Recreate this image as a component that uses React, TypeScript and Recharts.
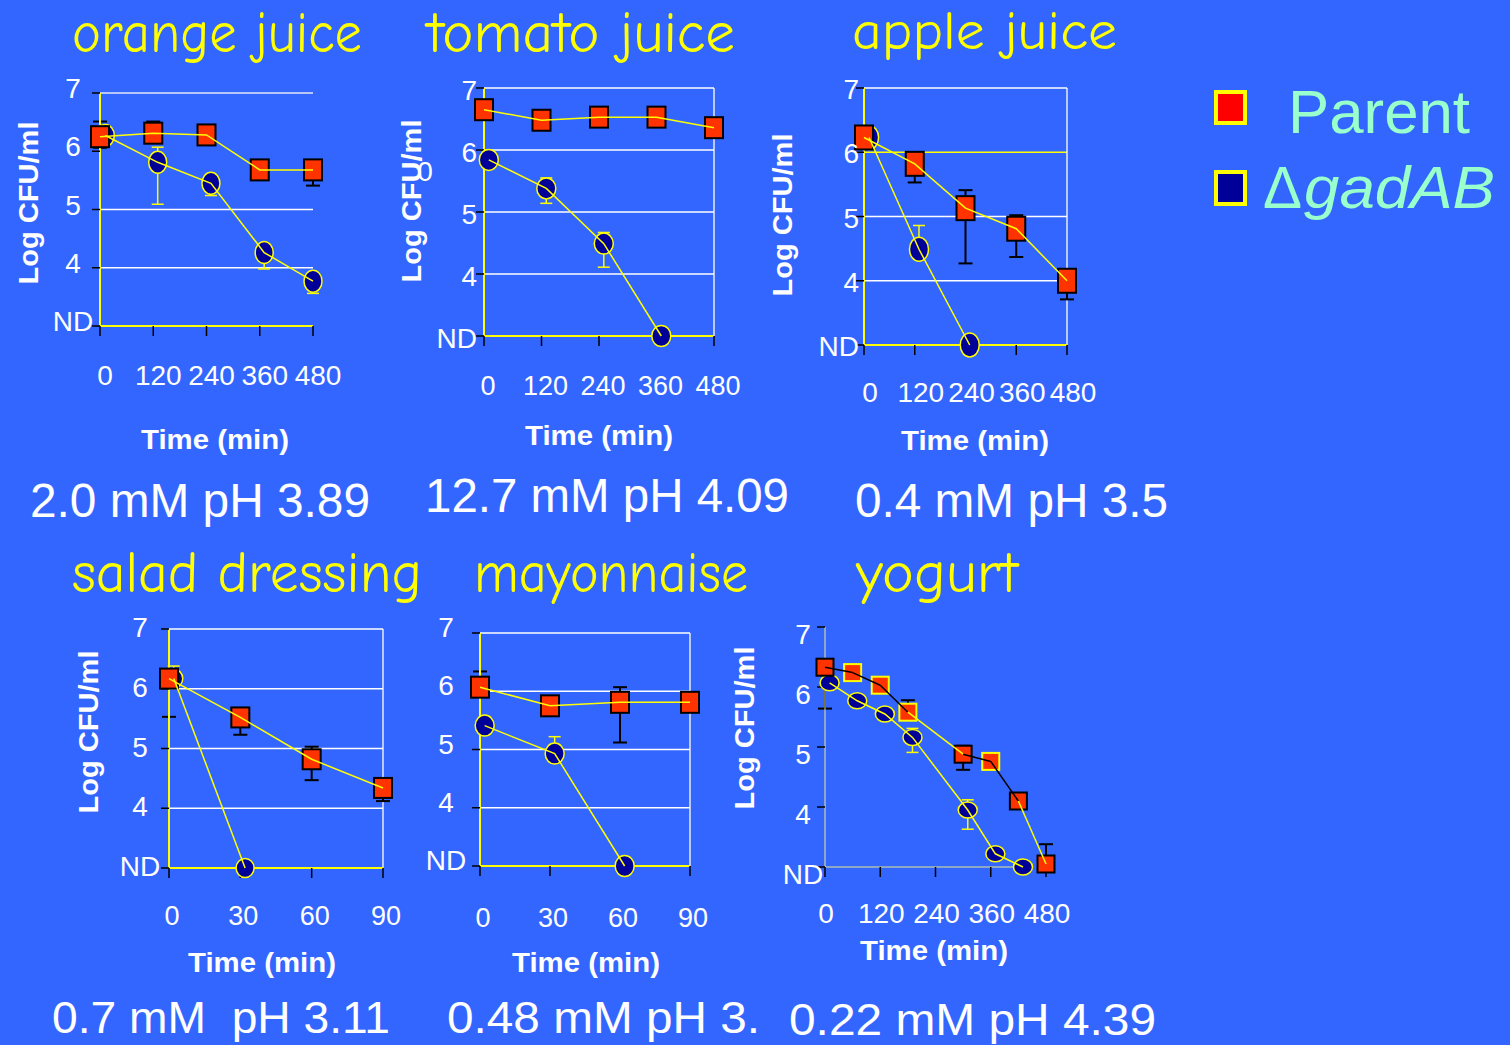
import React from 'react';
import { ComposedChart, Line, XAxis, YAxis, ErrorBar, ReferenceLine } from 'recharts';

const BG = '#3366FF';
const SQ_FILL = '#FF3300';
const CIRC_FILL = '#000099';
const YELLOW = '#FFFF00';
const WHITE = '#FFFFFF';
const MINT = '#99FFCC';
const SANS = '"Liberation Sans", Arial, sans-serif';
const COMIC = '"Comic Sans MS", "Comic Neue", "Noto Sans", sans-serif';

// --- axes ---
const longTicks = [0, 120, 240, 360, 480];
const shortTicks = [0, 30, 60, 90];
const logTicks = [3, 4, 5, 6, 7]; // 3 = ND

// --- orange juice ---
const ojParentT = [0, 120, 240, 360, 480];
const ojParentV = [6.25, 6.31, 6.28, 5.68, 5.68];
const ojParentErr = [[0.19, 0.26], [0, 0.2], [0, 0], [0, 0], [0.27, 0]];
const ojMutantT = [12, 130, 250, 370, 480];
const ojMutantV = [6.27, 5.81, 5.45, 4.26, 3.77];
const ojMutantErr = [[0, 0], [0.72, 0.26], [0.21, 0], [0.28, 0], [0.21, 0]];

// --- tomato juice ---
const tjParentT = [0, 120, 240, 360, 480];
const tjParentV = [6.65, 6.48, 6.53, 6.53, 6.36];
const tjParentErr = [[0, 0], [0, 0], [0, 0], [0, 0], [0, 0]];
const tjMutantT = [10, 130, 250, 370];
const tjMutantV = [5.84, 5.38, 4.49, 3.0];
const tjMutantErr = [[0, 0], [0.24, 0.17], [0.38, 0.18], [0, 0]];

// --- apple juice ---
const ajParentT = [0, 120, 240, 360, 480];
const ajParentV = [6.23, 5.82, 5.13, 4.81, 4.0];
const ajParentErr = [[0, 0.12], [0.29, 0], [0.86, 0.28], [0.44, 0.21], [0.29, 0]];
const ajMutantT = [12, 130, 250];
const ajMutantV = [6.23, 4.49, 3.0];
const ajMutantErr = [[0, 0], [0, 0.37], [0, 0]];

// --- salad dressing ---
const sdParentT = [0, 30, 60, 90];
const sdParentV = [6.17, 5.52, 4.82, 4.34];
const sdParentErr = [[0.64, 0.1], [0.29, 0.15], [0.35, 0.21], [0.22, 0]];
const sdMutantT = [2, 32];
const sdMutantV = [6.17, 3.0];
const sdMutantErr = [[0, 0.21], [0, 0]];

// --- mayonnaise ---
const myParentT = [0, 30, 60, 90];
const myParentV = [6.07, 5.75, 5.81, 5.81];
const myParentErr = [[0, 0.27], [0, 0], [0.69, 0.26], [0, 0]];
const myMutantT = [2, 32, 62];
const myMutantV = [5.41, 4.93, 3.0];
const myMutantErr = [[0, 0], [0, 0.29], [0, 0]];

// --- yogurt ---
const ygParentT = [0, 60, 120, 180, 300, 360, 420, 480];
const ygParentV = [6.33, 6.24, 6.03, 5.58, 4.88, 4.76, 4.1, 3.05];
const ygParentErr = [[0.69, 0], [0.09, 0], [0, 0], [0, 0.2], [0.26, 0.14], [0, 0], [0, 0], [0, 0.33]];
const ygParentEdge = ['#000', YELLOW, YELLOW, YELLOW, '#000', YELLOW, '#000', '#000'];
const ygParentSeg = ['#000', '#000', '#000', YELLOW, '#000', '#000', YELLOW];
const ygMutantT = [10, 70, 130, 190, 310, 370, 430];
const ygMutantV = [6.07, 5.77, 5.55, 5.16, 3.95, 3.22, 3.0];
const ygMutantErr = [[0, 0], [0, 0], [0, 0], [0.25, 0.15], [0.32, 0.17], [0, 0], [0, 0]];

type Pt = { t: number; v: number; err: number[]; edge?: string };

const pts = (t: number[], v: number[], err: number[][], edge?: string[]): Pt[] =>
  t.map((x, i) => ({ t: x, v: v[i], err: err[i], edge: edge ? edge[i] : undefined }));

interface PanelCfg {
  x0: number; y0: number; x1: number; y1: number;
  xMax: number; xTicks: number[];
  parent: Pt[]; mutant: Pt[];
  grid: { y: number; c: string }[];
  rightBorder: boolean;
  sq: [number, number]; circ: [number, number];
  yLab: { anchor: 'start' | 'middle' | 'end'; dx: number; dy: number };
  xLab: { dx: number; dy: number; size: number };
  axisColor: string; axisWidth: number;
  xAxisEnd?: number;
  parentSeg?: string[];
}

const allGrid = [
  { y: 7, c: WHITE }, { y: 6, c: WHITE }, { y: 5, c: WHITE }, { y: 4, c: WHITE },
];

const panels: PanelCfg[] = [
  {
    x0: 100, y0: 93, x1: 313, y1: 326, xMax: 480, xTicks: longTicks,
    parent: pts(ojParentT, ojParentV, ojParentErr), mutant: pts(ojMutantT, ojMutantV, ojMutantErr),
    grid: [{ y: 7, c: '#E4E8F4' }, { y: 5, c: WHITE }, { y: 4, c: WHITE }], rightBorder: false,
    sq: [18, 21], circ: [9, 11],
    yLab: { anchor: 'middle', dx: -27, dy: -5 }, xLab: { dx: 5, dy: 59, size: 28 },
    axisColor: YELLOW, axisWidth: 2,
  },
  {
    x0: 484, y0: 88, x1: 714, y1: 336, xMax: 480, xTicks: longTicks,
    parent: pts(tjParentT, tjParentV, tjParentErr), mutant: pts(tjMutantT, tjMutantV, tjMutantErr),
    grid: allGrid, rightBorder: true,
    sq: [18, 21], circ: [9.5, 10.5],
    yLab: { anchor: 'end', dx: -7, dy: 2 }, xLab: { dx: 4, dy: 59, size: 27 },
    axisColor: YELLOW, axisWidth: 2,
  },
  {
    x0: 864, y0: 88, x1: 1067, y1: 345, xMax: 480, xTicks: longTicks,
    parent: pts(ajParentT, ajParentV, ajParentErr), mutant: pts(ajMutantT, ajMutantV, ajMutantErr),
    grid: [{ y: 7, c: WHITE }, { y: 6, c: YELLOW }, { y: 5, c: WHITE }, { y: 4, c: WHITE }], rightBorder: true,
    sq: [18, 24], circ: [9.5, 12],
    yLab: { anchor: 'end', dx: -5, dy: 1 }, xLab: { dx: 6, dy: 57, size: 28 },
    axisColor: YELLOW, axisWidth: 2,
  },
  {
    x0: 169, y0: 629, x1: 383, y1: 868, xMax: 90, xTicks: shortTicks,
    parent: pts(sdParentT, sdParentV, sdParentErr), mutant: pts(sdMutantT, sdMutantV, sdMutantErr),
    grid: allGrid, rightBorder: true,
    sq: [18, 20], circ: [9, 9.5],
    yLab: { anchor: 'middle', dx: -29, dy: -2 }, xLab: { dx: 3, dy: 57, size: 27 },
    axisColor: YELLOW, axisWidth: 2,
  },
  {
    x0: 480, y0: 633, x1: 690, y1: 866, xMax: 90, xTicks: shortTicks,
    parent: pts(myParentT, myParentV, myParentErr), mutant: pts(myMutantT, myMutantV, myMutantErr),
    grid: allGrid, rightBorder: true,
    sq: [18, 21], circ: [9.5, 10.5],
    yLab: { anchor: 'middle', dx: -34, dy: -6 }, xLab: { dx: 3, dy: 61, size: 27 },
    axisColor: YELLOW, axisWidth: 2,
  },
  {
    x0: 825, y0: 627, x1: 1046, y1: 867, xMax: 480, xTicks: longTicks,
    parent: pts(ygParentT, ygParentV, ygParentErr, ygParentEdge), mutant: pts(ygMutantT, ygMutantV, ygMutantErr),
    grid: [], rightBorder: false,
    sq: [17, 17], circ: [9.5, 8],
    yLab: { anchor: 'middle', dx: -22, dy: 7 }, xLab: { dx: 1, dy: 56, size: 28 },
    axisColor: '#E6E68C', axisWidth: 1, xAxisEnd: 452,
    parentSeg: ygParentSeg,
  },
];

function Panel({ c }: { c: PanelCfg }) {
  const padL = 70, padR = 50, padT = 34, padB = 80;
  const pw = c.x1 - c.x0;
  const ph = c.y1 - c.y0;
  const W = pw + padL + padR;
  const H = ph + padT + padB;
  const [sw, sh] = c.sq;
  const [rx, ry] = c.circ;
  const tickStroke = { stroke: '#000', strokeWidth: 1.5 };

  const yTick = (p: any) => {
    const v = p.payload.value;
    return (
      <text key={`yt-${v}`} x={padL + c.yLab.dx} y={p.y + c.yLab.dy + 10} textAnchor={c.yLab.anchor}
        fill={WHITE} fontSize={28} fontFamily={SANS}>
        {v === 3 ? 'ND' : v}
      </text>
    );
  };
  const xTick = (p: any) => (
    <text key={`xt-${p.payload.value}`} x={p.x + c.xLab.dx} y={padT + ph + c.xLab.dy} textAnchor="middle"
      fill={WHITE} fontSize={c.xLab.size} fontFamily={SANS}>
      {p.payload.value}
    </text>
  );
  const squareDot = (p: any) => {
    const { cx, cy, index, payload } = p;
    if (cx == null || cy == null) return <g key={`sq-${index}`} />;
    return (
      <rect key={`sq-${index}`} x={cx - sw / 2} y={cy - sh / 2} width={sw} height={sh}
        fill={SQ_FILL} stroke={payload?.edge ?? '#000'} strokeWidth={2} />
    );
  };
  const circleDot = (p: any) => {
    const { cx, cy, index } = p;
    if (cx == null || cy == null) return <g key={`ci-${index}`} />;
    return <ellipse key={`ci-${index}`} cx={cx} cy={cy} rx={rx} ry={ry} fill={CIRC_FILL} stroke={YELLOW} strokeWidth={1.5} />;
  };

  return (
    <div style={{ position: 'absolute', left: c.x0 - padL, top: c.y0 - padT }}>
      <ComposedChart width={W} height={H} margin={{ top: padT, right: padR, bottom: 0, left: 0 }}>
        {c.grid.map((g) => (
          <ReferenceLine key={`g-${g.y}`} y={g.y} stroke={g.c} strokeWidth={1.3} zIndex={-50} />
        ))}
        {c.rightBorder && <ReferenceLine x={c.xMax} stroke={WHITE} strokeWidth={1.3} zIndex={-50} />}
        {c.xAxisEnd != null && (
          <ReferenceLine segment={[{ x: 0, y: 3 }, { x: c.xAxisEnd, y: 3 }]} stroke={c.axisColor} strokeWidth={c.axisWidth} zIndex={-50} />
        )}
        <XAxis type="number" dataKey="t" domain={[0, c.xMax]} ticks={c.xTicks} interval={0} height={padB}
          tickSize={10} tickMargin={0} tickLine={tickStroke} tick={xTick}
          axisLine={c.xAxisEnd != null ? false : { stroke: c.axisColor, strokeWidth: c.axisWidth }} />
        <YAxis type="number" domain={[3, 7]} ticks={logTicks} interval={0} width={padL}
          tickSize={8} tickMargin={0} tickLine={tickStroke} tick={yTick}
          axisLine={{ stroke: c.axisColor, strokeWidth: c.axisWidth }} />
        {c.parentSeg && c.parentSeg.map((col, i) => (
          <Line key={`seg-${i}`} data={[c.parent[i], c.parent[i + 1]]} dataKey="v" stroke={col} strokeWidth={1.5}
            dot={false} activeDot={false} isAnimationActive={false} zIndex={700} />
        ))}
        <Line data={c.mutant} dataKey="v" stroke={YELLOW} strokeWidth={1.5} dot={circleDot} activeDot={false}
          isAnimationActive={false} zIndex={700}>
          <ErrorBar dataKey="err" direction="y" width={6} stroke={YELLOW} strokeWidth={1.5} isAnimationActive={false} />
        </Line>
        <Line data={c.parent} dataKey="v" stroke={c.parentSeg ? 'none' : YELLOW} strokeWidth={1.5} dot={squareDot}
          activeDot={false} isAnimationActive={false} zIndex={700}>
          <ErrorBar dataKey="err" direction="y" width={7} stroke="#000" strokeWidth={2} isAnimationActive={false} />
        </Line>
      </ComposedChart>
    </div>
  );
}

const titles = [
  { s: 'orange juice', x: 72, y: 52, len: 290, size: 58 },
  { s: 'tomato juice', x: 427, y: 52, len: 308, size: 58 },
  { s: 'apple juice', x: 852, y: 49, len: 265, size: 54 },
  { s: 'salad dressing', x: 72, y: 592, len: 350, size: 58 },
  { s: 'mayonnaise', x: 474, y: 592, len: 274, size: 58 },
  { s: 'yogurt', x: 856, y: 592, len: 162, size: 58 },
];

const captions = [
  { s: '2.0 mM pH 3.89', x: 30, y: 517, len: 340, size: 48 },
  { s: '12.7 mM pH 4.09', x: 425, y: 512, len: 364, size: 48 },
  { s: '0.4 mM pH 3.5', x: 855, y: 517, len: 313, size: 48 },
  { s: '0.7 mM  pH 3.11', x: 52, y: 1033, len: 338, size: 45 },
  { s: '0.48 mM pH 3.', x: 447, y: 1033, len: 313, size: 45 },
  { s: '0.22 mM pH 4.39', x: 789, y: 1035, len: 367, size: 44 },
];

const timeLabels = [
  { x: 215, y: 449 }, { x: 599, y: 445 }, { x: 975, y: 450 },
  { x: 262, y: 972 }, { x: 586, y: 972 }, { x: 934, y: 960 },
];

const cfuLabels = [
  { x: 28, y: 203 }, { x: 411, y: 201 }, { x: 782, y: 215 },
  { x: 88, y: 732 }, { x: 744, y: 728 },
];

function Overlay() {
  return (
    <svg width={1510} height={1045} style={{ position: 'absolute', left: 0, top: 0, pointerEvents: 'none' }}>
      {titles.map((t) => (
        <text key={t.s} x={t.x} y={t.y} fill={YELLOW} fontSize={t.size} fontFamily={COMIC}
          textLength={t.len} lengthAdjust="spacingAndGlyphs">{t.s}</text>
      ))}
      {captions.map((t) => (
        <text key={t.s} x={t.x} y={t.y} fill={WHITE} fontSize={t.size} fontFamily={SANS}
          textLength={t.len} lengthAdjust="spacingAndGlyphs" style={{ whiteSpace: 'pre' }}>{t.s}</text>
      ))}
      {timeLabels.map((t, i) => (
        <text key={`tl-${i}`} x={t.x} y={t.y} fill={WHITE} fontSize={28} fontWeight="bold" fontFamily={SANS}
          textAnchor="middle" textLength={148} lengthAdjust="spacingAndGlyphs">Time (min)</text>
      ))}
      {cfuLabels.map((t, i) => (
        <text key={`cl-${i}`} transform={`translate(${t.x},${t.y}) rotate(-90)`} fill={WHITE} fontSize={28}
          fontWeight="bold" fontFamily={SANS} textAnchor="middle" dominantBaseline="central"
          textLength={163} lengthAdjust="spacingAndGlyphs">Log CFU/ml</text>
      ))}
      <text x={425} y={181} fill={WHITE} fontSize={28} fontFamily={SANS} textAnchor="middle">0</text>

      {/* legend */}
      <rect x={1216} y={92} width={29} height={31} fill="#FF0000" stroke={YELLOW} strokeWidth={4} />
      <rect x={1216} y={172} width={29} height={32} fill={CIRC_FILL} stroke={YELLOW} strokeWidth={4} />
      <text x={1288} y={133} fill={MINT} fontSize={62} fontFamily={SANS} textLength={182} lengthAdjust="spacingAndGlyphs">Parent</text>
      <text x={1263} y={208} fill={MINT} fontSize={60} fontFamily={SANS} textLength={39} lengthAdjust="spacingAndGlyphs">Δ</text>
      <text x={1304} y={208} fill={MINT} fontSize={60} fontStyle="italic" fontFamily={SANS} textLength={191} lengthAdjust="spacingAndGlyphs">gadAB</text>
    </svg>
  );
}

export default function App() {
  return (
    <div style={{ position: 'absolute', left: 0, top: 0, width: 1510, height: 1045, background: BG, overflow: 'hidden' }}>
      {panels.map((c, i) => (
        <Panel key={i} c={c} />
      ))}
      <Overlay />
    </div>
  );
}
